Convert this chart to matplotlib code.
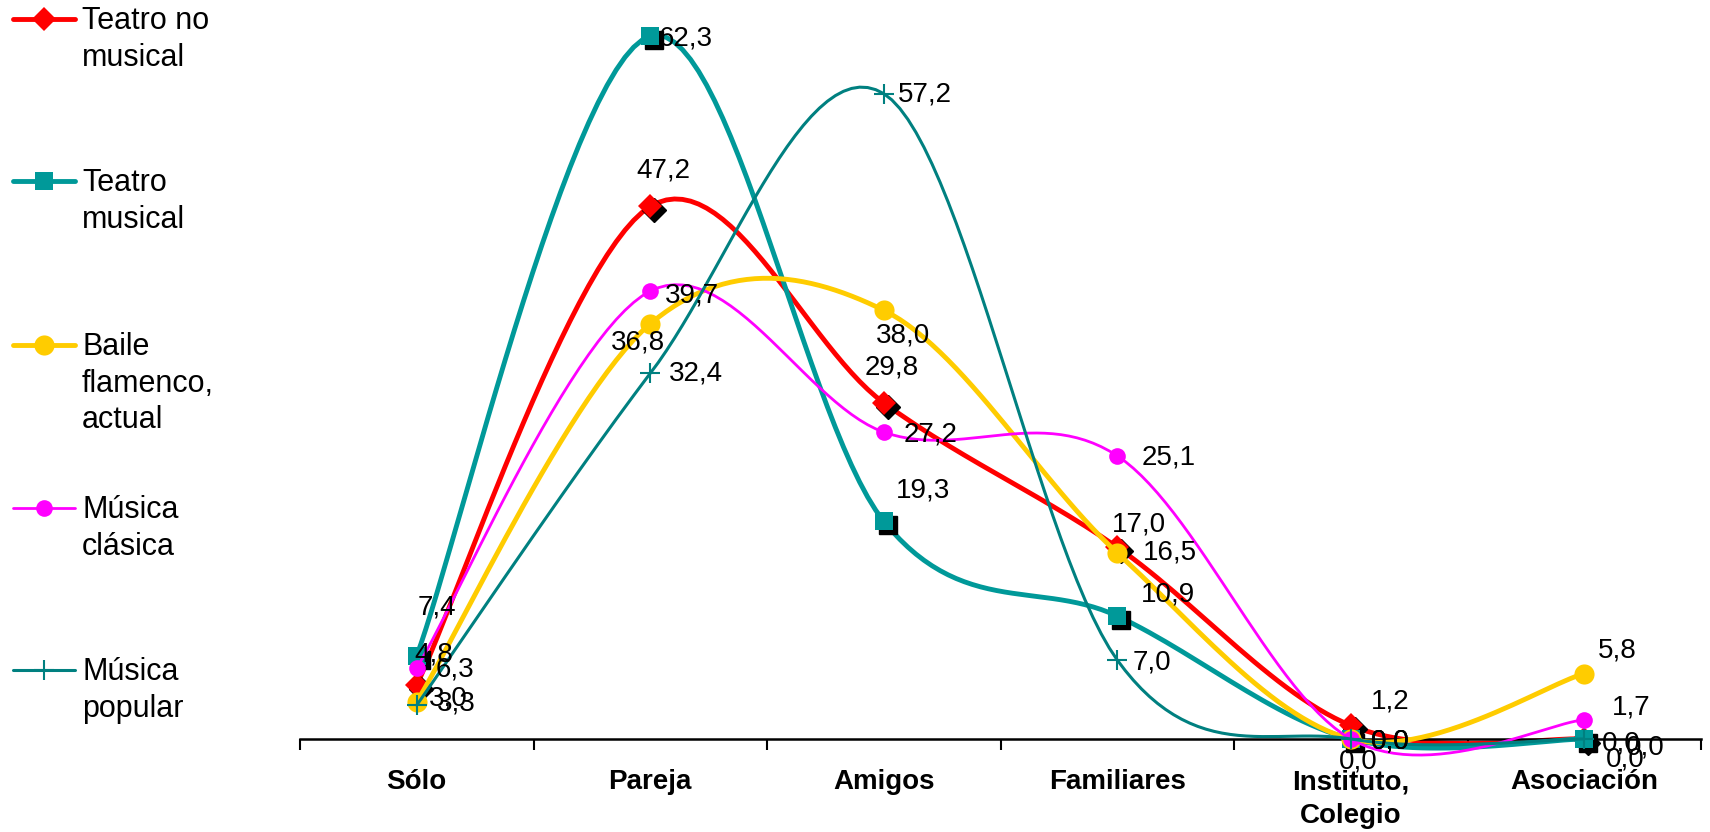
import numpy as np
import matplotlib
matplotlib.use("Agg")
import matplotlib.pyplot as plt
import matplotlib.transforms as mtransforms

plt.rcParams['font.family'] = ['Liberation Sans', 'DejaVu Sans']

# datos
categorias = ['Sólo', 'Pareja', 'Amigos', 'Familiares', 'Instituto,\nColegio', 'Asociación']
series = ['Teatro no\nmusical', 'Teatro\nmusical', 'Baile\nflamenco,\nactual', 'Música\nclásica', 'Música\npopular']
teatro_no_musical = [4.8, 47.2, 29.8, 17.0, 1.2, 0.0]
teatro_musical = [7.4, 62.3, 19.3, 10.9, 0.0, 0.0]
baile_flamenco = [3.3, 36.8, 38.0, 16.5, 0.0, 5.8]
musica_clasica = [6.3, 39.7, 27.2, 25.1, 0.0, 1.7]
musica_popular = [3.0, 32.4, 57.2, 7.0, 0.0, 0.0]
valores = [teatro_no_musical, teatro_musical, baile_flamenco, musica_clasica, musica_popular]

# estilos
colores = ['#FF0000', '#009999', '#FFCC00', '#FF00FF', '#008080']
marcadores = ['D', 's', 'o', 'o', '+']
tam_marc = [12, 13.5, 14.5, 12, 14]
grosor = [3.5, 3.5, 3.5, 2.0, 2.2]
sombra = [True, True, False, False, False]
# desplazamiento de etiquetas (px, y hacia abajo), borde izquierdo / centro vertical
despl = [
    [(-2, -30), (-14, -36), (-19, -35), (-5, -23), (20, -24), (18, 5)],
    [(1, -48), (8, 2), (12, -31), (24, -22), (-12, 22), (42, 8)],
    [(20, 2), (-39, 19), (-8, 25), (26, 0), (20, 3), (14, -23)],
    [(19, 2), (15, 4), (20, 2), (24, 2), (20, 3), (28, -12)],
    [(12, -7), (19, 0), (14, 1), (15, 2), (20, 3), (22, 20)],
]


def suavizar(x, y, n=30):
    # curva tipo Excel (bezier catmull-rom)
    x = np.asarray(x, float)
    y = np.asarray(y, float)
    P = np.column_stack([x, y])
    out = []
    for i in range(len(P) - 1):
        p0 = P[i - 1] if i > 0 else P[i]
        p1, p2 = P[i], P[i + 1]
        p3 = P[i + 2] if i + 2 < len(P) else P[i + 1]
        c1 = p1 + (p2 - p0) / 6
        c2 = p2 - (p3 - p1) / 6
        t = np.linspace(0, 1, n)[:, None]
        b = (1 - t) ** 3 * p1 + 3 * (1 - t) ** 2 * t * c1 + 3 * (1 - t) * t ** 2 * c2 + t ** 3 * p2
        out.append(b if i == 0 else b[1:])
    out = np.vstack(out)
    return out[:, 0], out[:, 1]


fig = plt.figure(figsize=(17.1, 8.32), dpi=100)
ax = fig.add_axes([300 / 1710, 93 / 832, 1401 / 1710, 739 / 832])
ax.set_xlim(-0.5, 5.5)
ax.set_ylim(0, 65.5)

x = np.arange(len(categorias))
sombra_tr = mtransforms.offset_copy(ax.transData, fig=fig, x=4, y=-4, units='dots')
for k, vals in enumerate(valores):
    xs, ys = suavizar(x, vals)
    ax.plot(xs, ys, color=colores[k], lw=grosor[k], solid_capstyle='round', zorder=2 + k, clip_on=False)
    if sombra[k]:
        ax.plot(x, vals, ls='none', marker=marcadores[k], ms=tam_marc[k], color='black',
                transform=sombra_tr, zorder=2 + k, clip_on=False)
    mew = 1.5 if marcadores[k] == '+' else 0
    ax.plot(x, vals, ls='none', marker=marcadores[k], ms=tam_marc[k], color=colores[k],
            mew=mew, zorder=2 + k, clip_on=False)
    for i, v in enumerate(vals):
        dx, dy = despl[k][i]
        ax.annotate(f'{v:.1f}'.replace('.', ','), (x[i], v), xytext=(dx, -dy),
                    textcoords='offset pixels', ha='left', va='center', fontsize=20, zorder=20)

for s in ['top', 'right', 'left']:
    ax.spines[s].set_visible(False)
ax.spines['bottom'].set_linewidth(1.8)
ax.set_yticks([])
ax.set_xticks(np.arange(-0.5, 6, 1))
ax.set_xticklabels([])
ax.tick_params(axis='x', direction='out', length=8, width=1.5)
for i, c in enumerate(categorias):
    ax.annotate(c, (i, 0), xytext=(0, -30), textcoords='offset pixels', ha='center', va='top',
                fontsize=20, fontweight='bold', linespacing=1.42, annotation_clip=False)

# leyenda a mano
ly = [19, 181, 345, 508, 670]
for k, nombre in enumerate(series):
    y_l = 1 - ly[k] / 832
    fig.add_artist(plt.Line2D([13 / 1710, 75 / 1710], [y_l, y_l], color=colores[k], lw=grosor[k],
                              solid_capstyle='round'))
    mew = 1.5 if marcadores[k] == '+' else 0
    fig.add_artist(plt.Line2D([44 / 1710], [y_l], marker=marcadores[k], ms=tam_marc[k],
                              color=colores[k], mew=mew))
    fig.text(82 / 1710, 1 - (ly[k] - 13) / 832, nombre, ha='left', va='top', fontsize=22,
             linespacing=1.29)

fig.savefig('out.png', dpi=100)
